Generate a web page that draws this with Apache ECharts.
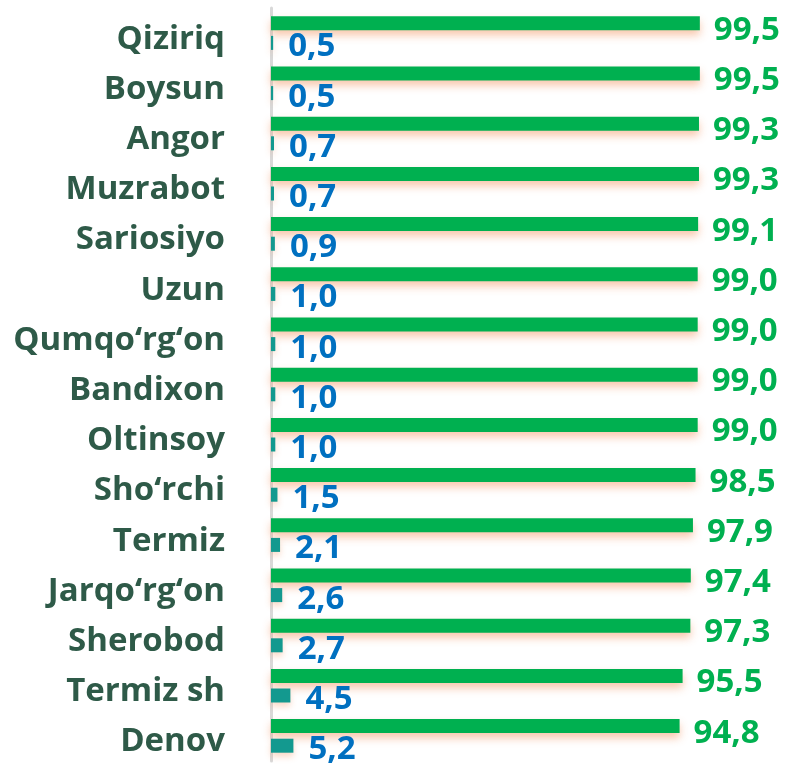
<!DOCTYPE html>
<html>
<head>
<meta charset="utf-8">
<script src="https://cdn.jsdelivr.net/npm/echarts@6/dist/echarts.min.js"></script>
<style>
    html, body { margin: 0; padding: 0; background: #fff; }
    #chart { width: 785px; height: 764px; }
</style>
</head>
<body>
<div id="chart"></div>
<script>
    // tumanlar
    const districts = ['Qiziriq', 'Boysun', 'Angor', 'Muzrabot', 'Sariosiyo', 'Uzun', 'Qumqo‘rg‘on', 'Bandixon',
        'Oltinsoy', 'Sho‘rchi', 'Termiz', 'Jarqo‘rg‘on', 'Sherobod', 'Termiz sh', 'Denov']
    const greenValues = [99.5, 99.5, 99.3, 99.3, 99.1, 99.0, 99.0, 99.0, 99.0, 98.5, 97.9, 97.4, 97.3, 95.5, 94.8]
    const tealValues = [0.5, 0.5, 0.7, 0.7, 0.9, 1.0, 1.0, 1.0, 1.0, 1.5, 2.1, 2.6, 2.7, 4.5, 5.2]

    const fontName = '"Open Sans", "DejaVu Sans", sans-serif'
    // 1 ta kasr, vergul bilan
    const fmt = p => p.value.toFixed(1).replace('.', ',')

    const chart = echarts.init(document.getElementById('chart'))
    const option = {
        animation: false,
        grid: {
            left: 271,
            right: 83,
            top: 8,
            bottom: 3
        },
        xAxis: {
            type: 'value',
            min: 0,
            max: 100,
            show: false
        },
        yAxis: {
            type: 'category',
            inverse: true,
            data: districts,
            axisTick: { show: false },
            axisLine: {
                show: true,
                lineStyle: { color: '#d9d9d9', width: 3 }
            },
            axisLabel: {
                margin: 46,
                formatter: v => '{n|' + v + '}',
                rich: {
                    n: {
                        padding: [12, 0, 0, 0],
                        color: '#2e5a48',
                        fontSize: 33,
                        fontWeight: 'bold',
                        fontFamily: fontName
                    }
                }
            }
        },
        series: [{
            type: 'bar',
            data: greenValues,
            barWidth: 14,
            barGap: '40%',
            itemStyle: {
                color: '#00b050',
                shadowColor: 'rgba(240, 130, 70, 0.45)',
                shadowBlur: 8,
                shadowOffsetY: 5
            },
            label: {
                show: true,
                position: 'right',
                distance: 14,
                offset: [0, 7],
                formatter: fmt,
                color: '#00b050',
                fontSize: 33,
                fontWeight: 'bold',
                fontFamily: fontName
            }
        }, {
            type: 'bar',
            data: tealValues,
            barWidth: 14,
            itemStyle: {
                color: '#13998f',
                shadowColor: 'rgba(240, 130, 70, 0.3)',
                shadowBlur: 6,
                shadowOffsetY: 4
            },
            label: {
                show: true,
                position: 'right',
                distance: 15,
                offset: [0, 4],
                formatter: fmt,
                color: '#0070c0',
                fontSize: 33,
                fontWeight: 'bold',
                fontFamily: fontName
            }
        }]
    }
    chart.setOption(option)
</script>
</body>
</html>
